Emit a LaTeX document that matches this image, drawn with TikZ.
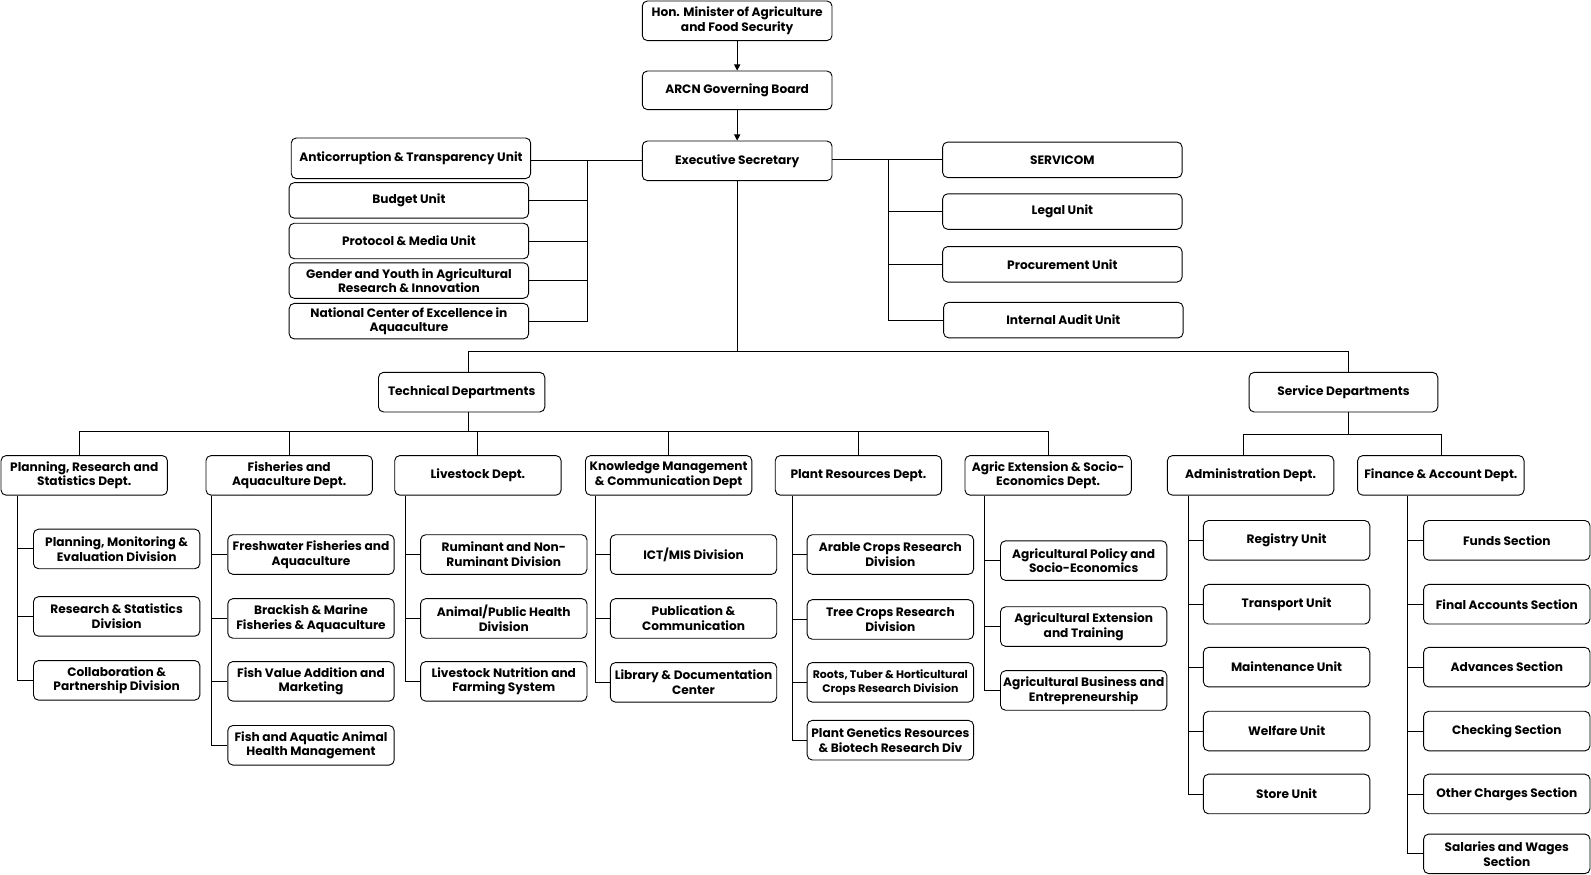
\documentclass[tikz,border=0pt]{standalone}
\usepackage{fontspec}
\setmainfont{Poppins}
\usetikzlibrary{arrows.meta}
\begin{document}
\begin{tikzpicture}[x=1pt,y=-1pt,
  box/.style={draw=black, line width=0.9pt, rounded corners=5pt, align=center,
    font=\fontsize{12}{14.5}\selectfont\bfseries, inner sep=1pt, fill=white},
  unitbox/.style={box, minimum width=236pt, minimum height=35pt},
  topbox/.style={box, minimum width=187pt, minimum height=39pt},
  deptbox/.style={box, minimum width=164pt, minimum height=39pt},
  link/.style={draw=black, line width=0.9pt},
  arr/.style={link, -{Triangle[length=6pt,width=6pt]}}
]
\useasboundingbox (0,0) rectangle (1568,861.4);
\fill[white] (0,0) rectangle (1568,861.4);

% top
\node[topbox] (min) at (726.5,20.5) {Hon. Minister of Agriculture\\and Food Security};
\node[topbox, minimum height=38pt] (arcn) at (726.5,89) {ARCN Governing Board};
\node[topbox] (exec) at (726.5,158.5) {Executive Secretary};
\draw[arr] (min) -- (arcn);
\draw[arr] (arcn) -- (exec);

% left units
\node[unitbox, minimum height=40pt] (anti) at (405,156) {Anticorruption \& Transparency Unit};
\node[unitbox] (budget) at (403,197.5) {Budget Unit};
\node[unitbox] (proto) at (403,237.5) {Protocol \& Media Unit};
\node[unitbox] (gender) at (403,276.5) {Gender and Youth in Agricultural\\Research \& Innovation};
\node[unitbox] (natl) at (403,316.5) {National Center of Excellence in\\Aquaculture};
\coordinate (lb) at (579,158);
\draw[link] (exec.west |- lb) -- (anti.east |- lb);
\draw[link] (lb) |- (natl.east);
\draw[link] (lb |- budget.east) -- (budget.east);
\draw[link] (lb |- proto.east) -- (proto.east);
\draw[link] (lb |- gender.east) -- (gender.east);

% right units
\node[unitbox] (servicom) at (1047,157.5) {SERVICOM};
\node[unitbox] (legal) at (1047,208.5) {Legal Unit};
\node[unitbox] (procure) at (1047,260.5) {Procurement Unit};
\node[unitbox] (audit) at (1048,315.5) {Internal Audit Unit};
\coordinate (rb) at (876,157.5);
\draw[link] (exec.east |- rb) -- (servicom.west);
\draw[link] (rb) |- (audit.west);
\draw[link] (rb |- legal.west) -- (legal.west);
\draw[link] (rb |- procure.west) -- (procure.west);

% technical / service
\node[deptbox] (tech) at (455,386.5) {Technical Departments};
\node[deptbox, minimum width=186pt] (serv) at (1324,386.5) {Service Departments};
\coordinate (tj) at (462,346);
\coordinate (sj) at (1329,346);
\draw[link] (exec.south) -- (exec.south |- tj);
\draw[link] (tj) -- (sj);
\draw[link] (tj) -- (tj |- tech.north);
\draw[link] (sj) -- (sj |- serv.north);

% departments
\node[deptbox] (prs) at (83,468.5) {Planning, Research and\\Statistics Dept.};
\node[deptbox] (fish) at (285,468.5) {Fisheries and\\Aquaculture Dept.};
\node[deptbox] (live) at (471,468.5) {Livestock Dept.};
\node[deptbox] (know) at (659,468.5) {Knowledge Management\\\& Communication Dept};
\node[deptbox] (plant) at (846,468.5) {Plant Resources Dept.};
\node[deptbox] (agric) at (1033,468.5) {Agric Extension \& Socio-\\Economics Dept.};
\node[deptbox] (admin) at (1232.5,468.5) {Administration Dept.};
\node[deptbox] (fin) at (1420,468.5) {Finance \& Account Dept.};

\coordinate (tb) at (462,425);
\coordinate (prsn) at (78,449.5);
\draw[link] (tb |- tech.south) -- (tb);
\draw[link] (prsn) -- (prsn |- tb) -- (agric.north |- tb) -- (agric.north);
\foreach \d in {fish,live,know,plant}{\draw[link] (\d.north |- tb) -- (\d.north);}

\coordinate (sb) at (1329,428);
\coordinate (adn) at (1225,449.5);
\coordinate (fnn) at (1421,449.5);
\draw[link] (sb |- serv.south) -- (sb);
\draw[link] (adn) -- (adn |- sb) -- (fnn |- sb) -- (fnn);

% PRS children
\node[deptbox] (prs1) at (115,541) {Planning, Monitoring \&\\Evaluation Division};
\node[deptbox] (prs2) at (115,607.5) {Research \& Statistics\\Division};
\node[deptbox] (prs3) at (115,670.5) {Collaboration \&\\Partnership Division};
\draw[link] (prs.south west) ++(17,0) coordinate (pb) |- (prs3.west);
\foreach \c in {prs1,prs2}{\draw[link] (pb |- \c.west) -- (\c.west);}

% Fisheries children
\node[deptbox] (fish1) at (306.5,546.5) {Freshwater Fisheries and\\Aquaculture};
\node[deptbox] (fish2) at (306.5,609.5) {Brackish \& Marine\\Fisheries \& Aquaculture};
\node[deptbox] (fish3) at (306.5,671.5) {Fish Value Addition and\\Marketing};
\node[deptbox] (fish4) at (306.5,734.5) {Fish and Aquatic Animal\\Health Management};
\draw[link] (fish.south west) ++(6,0) coordinate (fb) |- (fish4.west);
\foreach \c in {fish1,fish2,fish3}{\draw[link] (fb |- \c.west) -- (\c.west);}

% Livestock children
\node[deptbox] (live1) at (496.5,546.5) {Ruminant and Non-\\Ruminant Division};
\node[deptbox] (live2) at (496.5,609.5) {Animal/Public Health\\Division};
\node[deptbox] (live3) at (496.5,671.5) {Livestock Nutrition and\\Farming System};
\draw[link] (live.south west) ++(11,0) coordinate (lvb) |- (live3.west);
\foreach \c in {live1,live2}{\draw[link] (lvb |- \c.west) -- (\c.west);}

% Knowledge children
\node[deptbox] (know1) at (683.5,546.5) {ICT/MIS Division};
\node[deptbox] (know2) at (683.5,609.5) {Publication \&\\Communication};
\node[deptbox] (know3) at (683.5,672.5) {Library \& Documentation\\Center};
\draw[link] (know.south west) ++(10,0) coordinate (kb) |- (know3.west);
\foreach \c in {know1,know2}{\draw[link] (kb |- \c.west) -- (\c.west);}

% Plant children
\node[deptbox] (plant1) at (877.5,546.5) {Arable Crops Research\\Division};
\node[deptbox] (plant2) at (877.5,610.5) {Tree Crops Research\\Division};
\node[deptbox, font=\fontsize{10.8}{14}\selectfont\bfseries] (plant3) at (877.5,672.5) {Roots, Tuber \& Horticultural\\Crops Research Division};
\node[deptbox] (plant4) at (877.5,729.5) {Plant Genetics Resources\\\& Biotech Research Div};
\draw[link] (plant.south west) ++(17,0) coordinate (plb) |- (plant4.west);
\foreach \c in {plant1,plant2,plant3}{\draw[link] (plb |- \c.west) -- (\c.west);}

% Agric children
\node[deptbox] (agric1) at (1068,552.5) {Agricultural Policy and\\Socio-Economics};
\node[deptbox] (agric2) at (1068,617.5) {Agricultural Extension\\and Training};
\node[deptbox] (agric3) at (1068,680.5) {Agricultural Business and\\Entrepreneurship};
\draw[link] (agric.south west) ++(20,0) coordinate (ab) |- (agric3.west);
\foreach \c in {agric1,agric2}{\draw[link] (ab |- \c.west) -- (\c.west);}

% Admin children
\node[deptbox] (adm1) at (1268,532.5) {Registry Unit};
\node[deptbox] (adm2) at (1268,595.5) {Transport Unit};
\node[deptbox] (adm3) at (1268,657.5) {Maintenance Unit};
\node[deptbox] (adm4) at (1268,720.5) {Welfare Unit};
\node[deptbox] (adm5) at (1268,782.5) {Store Unit};
\draw[link] (admin.south west) ++(21,0) coordinate (admb) |- (adm5.west);
\foreach \c in {adm1,adm2,adm3,adm4}{\draw[link] (admb |- \c.west) -- (\c.west);}

% Finance children
\node[deptbox] (fin1) at (1485,532.5) {Funds Section};
\node[deptbox] (fin2) at (1485,595.5) {Final Accounts Section};
\node[deptbox] (fin3) at (1485,657.5) {Advances Section};
\node[deptbox] (fin4) at (1485,720.5) {Checking Section};
\node[deptbox] (fin5) at (1485,782.5) {Other Charges Section};
\node[deptbox] (fin6) at (1485,841.5) {Salaries and Wages\\Section};
\draw[link] (fin.south west) ++(50,0) coordinate (finb) |- (fin6.west);
\foreach \c in {fin1,fin2,fin3,fin4,fin5}{\draw[link] (finb |- \c.west) -- (\c.west);}
\end{tikzpicture}
\end{document}
